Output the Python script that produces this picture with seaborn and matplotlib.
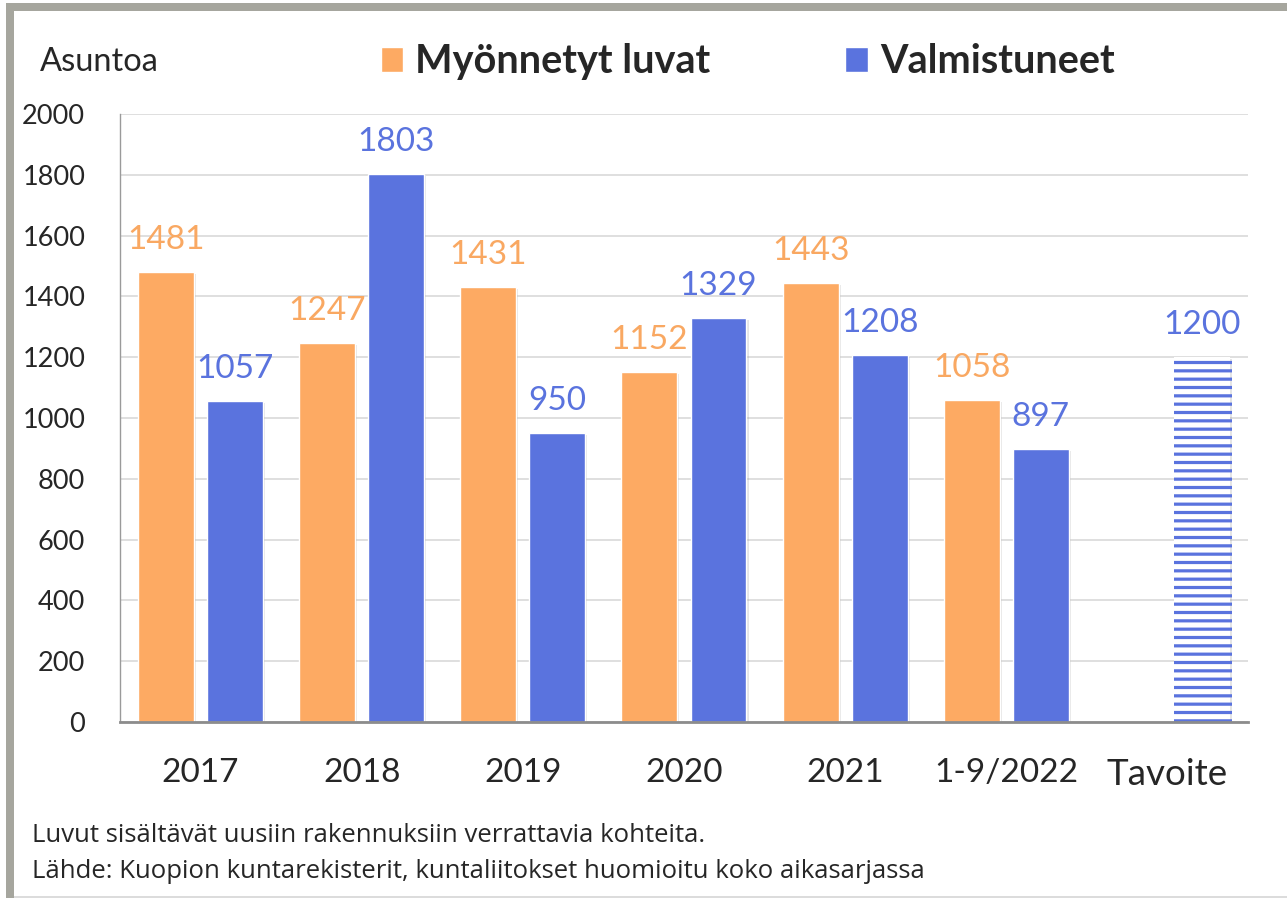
import matplotlib
matplotlib.use("Agg")
import numpy as np
import pandas as pd
import seaborn as sns
import matplotlib.pyplot as plt
import matplotlib.patheffects as pe
from matplotlib.patches import Patch, Rectangle

# data
categories = ["2017", "2018", "2019", "2020", "2021", "1-9/2022", "Tavoite"]
permits = [1481, 1247, 1431, 1152, 1443, 1058, np.nan]
completed = [1057, 1803, 950, 1329, 1208, 897, 1200]
series = ["Myönnetyt luvat", "Valmistuneet"]
y_ticks = [0, 200, 400, 600, 800, 1000, 1200, 1400, 1600, 1800, 2000]
notes = ["Luvut sisältävät uusiin rakennuksiin verrattavia kohteita.",
         "Lähde: Kuopion kuntarekisterit, kuntaliitokset huomioitu koko aikasarjassa"]

ORANGE = "#FDAA63"
BLUE = "#5A73DE"
ORANGE_TXT = "#F9A862"

sns.set_style("white")
plt.rcParams["font.family"] = ["Lato", "DejaVu Sans"]
plt.rcParams["hatch.linewidth"] = 2.3

df = pd.DataFrame({
    "Vuosi": categories * 2,
    "Sarja": [series[0]] * len(categories) + [series[1]] * len(categories),
    "Asuntoa": permits + completed,
})

fig = plt.figure(figsize=(12.87, 8.98), dpi=100)
ax = fig.add_axes([0.0932, 0.196, 0.8765, 0.677])

sns.barplot(data=df, x="Vuosi", y="Asuntoa", hue="Sarja", order=categories,
            hue_order=series, palette=[ORANGE, BLUE], saturation=1,
            width=0.857, gap=0.19, legend=False, ax=ax)

shadow = [pe.SimplePatchShadow(offset=(1.5, -1.5), shadow_rgbFace="#999999", alpha=0.25), pe.Normal()]
for container, values, txtcol in zip(ax.containers, [permits, completed], [ORANGE_TXT, BLUE]):
    for bar in container:
        idx = int(round(bar.get_x() + bar.get_width() / 2))
        v = values[idx]
        if np.isnan(v):
            continue
        bar.set_path_effects(shadow)
        if categories[idx] == "Tavoite":
            bar.set_facecolor("white")
            bar.set_edgecolor(BLUE)
            bar.set_hatch("--")
            bar.set_linewidth(0)
            try:
                bar.set_hatchcolor(BLUE)
            except AttributeError:
                pass
        ax.annotate(f"{v:.0f}", (bar.get_x() + bar.get_width() / 2, v),
                    xytext=(0, 23), textcoords="offset points",
                    ha="center", va="center", fontsize=24, color=txtcol)

ax.set_ylim(0, 2000)
ax.set_xlim(-0.5, len(categories) - 0.5)
ax.set_yticks(y_ticks)
ax.set_yticklabels([str(t) for t in y_ticks], fontsize=19.5)
ax.tick_params(axis="y", length=0, pad=25)
ax.tick_params(axis="x", length=0, pad=26, labelsize=24)
for lbl in ax.get_xticklabels():
    if lbl.get_text() == "Tavoite":
        lbl.set_fontsize(26.5)
ax.set_xlabel("")
ax.set_ylabel("")
ax.yaxis.grid(True, color="#d9d9d9", linewidth=1.2)
ax.set_axisbelow(True)
for s in ["top", "right"]:
    ax.spines[s].set_visible(False)
ax.spines["left"].set_color("#9a9a9a")
ax.spines["left"].set_linewidth(1)
ax.spines["bottom"].set_color("#8c8c8c")
ax.spines["bottom"].set_linewidth(2)

# legend and y unit
handles = [Patch(facecolor=ORANGE, label=series[0]), Patch(facecolor=BLUE, label=series[1])]
fig.legend(handles=handles, loc="center left", bbox_to_anchor=(0.268, 0.931), ncol=2,
           frameon=False, handlelength=0.58, handleheight=0.6, handletextpad=0.3,
           columnspacing=3.4, prop={"weight": "bold", "size": 28.5})
fig.text(0.031, 0.931, "Asuntoa", fontsize=23.5, va="center", ha="left")

# footnotes
fig.text(0.025, 0.070, notes[0], fontsize=18.5, va="center", ha="left", family="Open Sans")
fig.text(0.025, 0.029, notes[1], fontsize=18.5, va="center", ha="left", family="Open Sans")

# grey frame of the original slide
frame = "#A6A69E"
fig.add_artist(Rectangle((6 / 1287, 0), 8 / 1287, 1 - 3 / 898, transform=fig.transFigure,
                         facecolor=frame, edgecolor="none"))
fig.add_artist(Rectangle((6 / 1287, 1 - 11 / 898), 1, 8 / 898, transform=fig.transFigure,
                         facecolor=frame, edgecolor="none"))
fig.add_artist(Rectangle((14 / 1287, 0), 1, 2 / 898, transform=fig.transFigure,
                         facecolor="#dcdcdc", edgecolor="none"))

fig.savefig("out.png", dpi=100)
